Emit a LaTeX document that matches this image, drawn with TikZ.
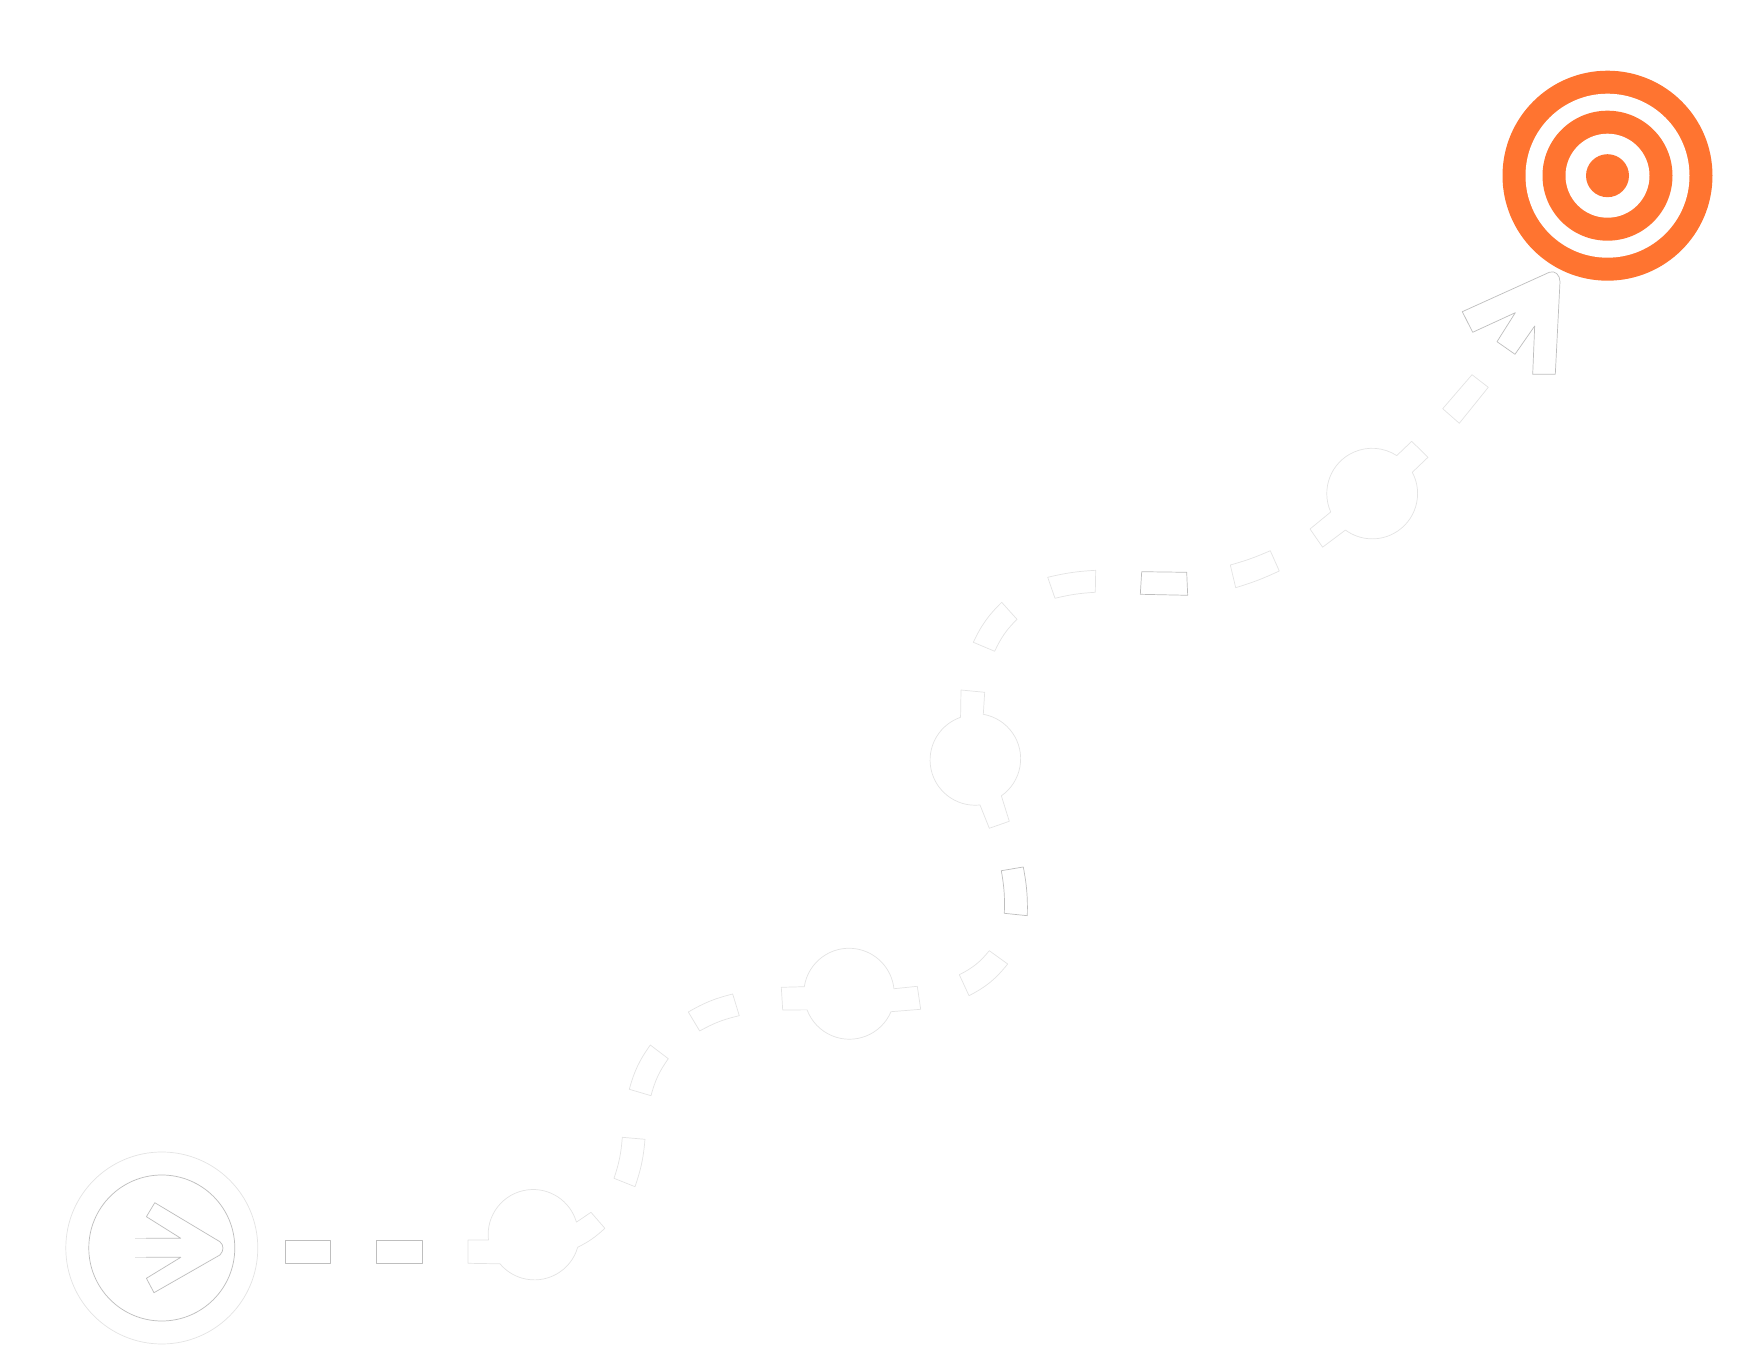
\documentclass[tikz,border=0pt]{standalone}
\definecolor{TargetOrange}{HTML}{FF7430}
\definecolor{EdgeGrey}{HTML}{BEBEBE}
\definecolor{EdgeFaint}{HTML}{E4E4E4}
\tikzset{
    % White pieces with a hairline edge
    dash piece/.style={
        draw=EdgeGrey,
        fill=white,
        line width=0.2pt,
        line join=round
    },
    faint piece/.style={
        dash piece,
        draw=EdgeFaint
    },
    target ring/.style={
        fill=TargetOrange
    },
    target gap/.style={
        fill=white
    }
}
\begin{document}
\begin{tikzpicture}[x=0.01cm, y=-0.01cm]
    \useasboundingbox (0,0) rectangle (1762,1370);

    % Start badge
    \draw[faint piece] (161.8,1248) circle (96);
    \draw[dash piece] (161.8,1248) circle (73);
    \fill[white] (118,1238.3) -- (180.8,1238.3) -- (146.4,1216.7) -- (154.8,1202.7) -- (219.9,1241.7)
        .. controls (224,1245) and (224,1251) .. (219.9,1255) -- (154,1292.7) -- (146.4,1278.3)
        -- (180.8,1257.3) -- (118,1257.3) -- cycle;
    \draw[faint piece, draw=EdgeGrey, fill=none] (146,1238.3) -- (180.8,1238.3) -- (146.4,1216.7) -- (154.8,1202.7) -- (219.9,1241.7)
        .. controls (224,1245) and (224,1251) .. (219.9,1255) -- (154,1292.7) -- (146.4,1278.3)
        -- (180.8,1257.3) -- (146,1257.3);
    \draw[faint piece, fill=none] (135,1238.3) -- (146,1238.3);
    \draw[faint piece, fill=none] (135,1257.3) -- (146,1257.3);

    % Straight dashes
    \draw[dash piece] (285,1240) rectangle (330.5,1263.3);
    \draw[dash piece] (376.4,1240) rectangle (422,1263.3);

    % First stop
    \draw[faint piece] (468,1240) -- (488.5,1240) arc[start angle=173, end angle=344, radius=45]
        -- (591,1212.3) -- (604.9,1228.3) to[bend left=8] (577.7,1247.3)
        arc[start angle=16, end angle=140, radius=45] -- (468,1263.3) -- cycle;

    % Dashes up to the second stop
    \draw[faint piece] (622.3,1137.3) -- (645,1139.3) to[bend left=7] (635,1186.7)
        -- (614,1178.3) to[bend right=7] (622.3,1137.3) -- cycle;
    \draw[faint piece] (650.3,1045) -- (668.3,1058.7) to[bend right=10] (651,1095.7)
        -- (629.3,1089.3) to[bend left=10] (650.3,1045) -- cycle;
    \draw[faint piece] (732.7,994) -- (739.3,1015.7) to[bend right=8] (699.7,1031)
        -- (688.3,1012) to[bend left=8] (732.7,994) -- cycle;

    % Second stop
    \draw[faint piece] (781.3,987.3) -- (804.3,986.7) arc[start angle=188.6, end angle=354, radius=45.2]
        -- (917.3,986.3) -- (920.7,1009.3) -- (891,1011.7)
        arc[start angle=23, end angle=159.5, radius=45.2] -- (782.7,1010) -- cycle;

    % Dashes up to the third stop
    \draw[faint piece] (989.3,950.7) -- (1007.7,964) to[bend left=12] (969,995.7)
        -- (959.3,974.7) to[bend right=12] (989.3,950.7) -- cycle;
    \draw[dash piece] (1001.3,870.7) -- (1023.3,867) to[bend left=6] (1027.3,915.7)
        -- (1004.3,913.3) to[bend right=6] (1001.3,870.7) -- cycle;

    % Third stop
    \draw[faint piece] (961,690) -- (984.7,692.3) -- (983.3,714.3) arc[start angle=280, end angle=415, radius=45.2]
        -- (1009.3,821.3) -- (989.3,828.3) -- (980,805)
        arc[start angle=84, end angle=251, radius=45.2] -- cycle;

    % Dashes up to the fourth stop
    \draw[faint piece] (1001.7,602.3) -- (1017,619.3) to[bend right=10] (994.7,651.3)
        -- (973.3,642.3) to[bend left=10] (1001.7,602.3) -- cycle;
    \draw[faint piece] (1047.7,577.3) to[bend left=5] (1095.7,570.3) -- (1095.3,592.3)
        to[bend right=5] (1055,598.3) -- cycle;
    \draw[dash piece] (1141.7,571.7) -- (1186.7,572.3) -- (1187.7,595.3) -- (1140.3,594.3) -- cycle;
    \draw[faint piece] (1270.3,550.7) -- (1279.3,571) to[bend left=4] (1235.7,587.7)
        -- (1230.3,565) to[bend right=4] (1270.3,550.7) -- cycle;

    % Fourth stop
    \draw[faint piece] (1310,529) -- (1330.7,512) arc[start angle=156, end angle=303, radius=45.3]
        -- (1411.7,441.3) -- (1428,457.3) -- (1412.3,472.3)
        arc[start angle=-28, end angle=126.3, radius=45.3] -- (1322.6,547.2) -- cycle;

    % Last dash and arrow head
    \draw[faint piece] (1472,374.7) -- (1488.3,387.3) -- (1459.3,423.3) -- (1442.7,408.7) -- cycle;
    \draw[dash piece] (1462.3,311.7) -- (1549.3,272.3) .. controls (1555,270) and (1560,275) .. (1560,281.7)
        -- (1555.3,374.3) -- (1532.7,374.3) -- (1534.7,326) -- (1515,354.3) -- (1497,341.7)
        -- (1515.3,312.7) -- (1472.7,332.3) -- cycle;

    % Target
    \fill[target ring] (1607.5,175.7) circle (105);
    \fill[target gap] (1607.5,175.7) circle (82);
    \fill[target ring] (1607.5,175.7) circle (65);
    \fill[target gap] (1607.5,175.7) circle (42);
    \fill[target ring] (1607.5,175.7) circle (21.5);
\end{tikzpicture}
\end{document}
